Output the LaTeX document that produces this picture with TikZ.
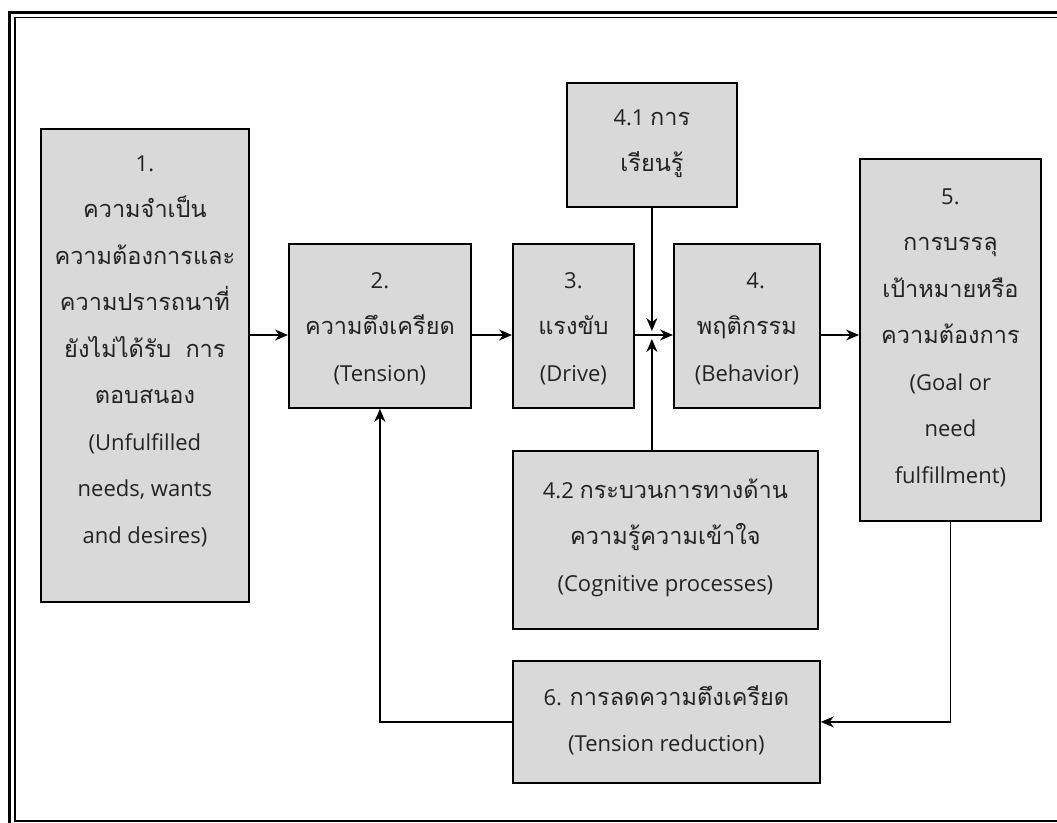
\documentclass[tikz,border=0pt]{standalone}
\usepackage{fontspec}
\setmainfont{Open Sans}
\newfontfamily\thaifont[Script=Thai]{Loma}
\usetikzlibrary{arrows.meta}
\definecolor{boxfill}{RGB}{217,217,217}
\definecolor{ink}{RGB}{35,35,35}
% fixed height for the first line of every box text
\newcommand\firstline{\rule{0pt}{26pt}}
% Thai words are set in Loma
\newcommand\thai[1]{{\thaifont\fontsize{23.5}{46.5}\selectfont #1}}

\begin{document}
\begin{tikzpicture}[x=1pt,y=-1pt,
  box/.style={draw=black, line width=1.8pt, fill=boxfill, inner sep=0pt, anchor=north west},
  boxtext/.style={anchor=north, align=center, inner sep=0pt, text=ink,
    font=\fontsize{22}{46.5}\selectfont},
  conn/.style={line width=1.6pt, -{Stealth[length=13pt,width=11pt]}},
  frameline/.style={line width=2.2pt}]
\useasboundingbox (0,0) rectangle (1057,822);
\clip (0,0) rectangle (1057,822);
\fill[white] (0,0) rectangle (1057,822);

% double page frame
\draw[frameline] (9.5,830) -- (9.5,12.5) -- (1065,12.5);
\draw[frameline, line width=1.8pt] (1065,17.5) -- (15,17.5) -- (15,821) -- (1065,821);

% boxes
\node[box, minimum width=208pt, minimum height=473pt] (b1) at (40,128) {};
\node[box, minimum width=182pt, minimum height=164pt] (b2) at (288,243) {};
\node[box, minimum width=121pt, minimum height=164pt] (b3) at (512,243) {};
\node[box, minimum width=146pt, minimum height=164pt] (b4) at (673,243) {};
\node[box, minimum width=170pt, minimum height=124pt] (b41) at (566,82) {};
\node[box, minimum width=305pt, minimum height=178pt] (b42) at (512,450) {};
\node[box, minimum width=181pt, minimum height=362pt] (b5) at (859,158) {};
\node[box, minimum width=307pt, minimum height=122pt] (b6) at (512,660) {};

% box texts
\node[boxtext] (t1) at ([yshift=-17pt]b1.north) {\firstline 1.\\\thai{ความจำเป็น}\\\thai{ความต้องการและ}\\\thai{ความปรารถนาที่}\\\thai{ยังไม่ได้รับ\hspace{0.6em}การ}\\\thai{ตอบสนอง}\\(Unfulfilled\\needs, wants\\and desires)};
\node[boxtext] (t2) at ([yshift=-19pt]b2.north) {\firstline 2.\\\thai{ความตึงเครียด}\\(Tension)};
\node[boxtext] (t3) at ([yshift=-19pt]b3.north) {\firstline 3.\\\thai{แรงขับ}\\(Drive)};
\node[boxtext] (t4) at ([yshift=-19pt]b4.north) {\firstline\hspace{0.8em}4.\\\thai{พฤติกรรม}\\(Behavior)};
\node[boxtext] (t41) at ([yshift=-17pt]b41.north) {\firstline 4.1 \thai{การ}\\\thai{เรียนรู้}};
\node[boxtext] (t42) at ([yshift=-22pt]b42.north) {\firstline 4.2 \thai{กระบวนการทางด้าน}\\\thai{ความรู้ความเข้าใจ}\\(Cognitive processes)};
\node[boxtext] (t5) at ([yshift=-20pt]b5.north) {\firstline 5.\\\thai{การบรรลุ}\\\thai{เป้าหมายหรือ}\\\thai{ความต้องการ}\\(Goal or\\need\\fulfillment)};
\node[boxtext] (t6) at ([yshift=-19pt]b6.north) {\firstline 6. \thai{การลดความตึงเครียด}\\(Tension reduction)};

% main flow line
\coordinate (flow) at (0,335);
\draw[conn] (b1.east |- flow) -- (b2.west |- flow);
\draw[conn] (b2.east |- flow) -- (b3.west |- flow);
\draw[conn] (b3.east |- flow) -- (b4.west |- flow);
\draw[conn] (b4.east |- flow) -- (b5.west |- flow);

% influences on behaviour
\draw[conn] (b41.south) -- ([yshift=4pt]b41.south |- flow);
\draw[conn] (b41.south |- b42.north) -- ([yshift=-4pt]b41.south |- flow);

% feedback loop
\draw[conn] (b5.south) |- (b6.east);
\draw[conn] (b6.west) -| (b2.south);
\end{tikzpicture}
\end{document}
